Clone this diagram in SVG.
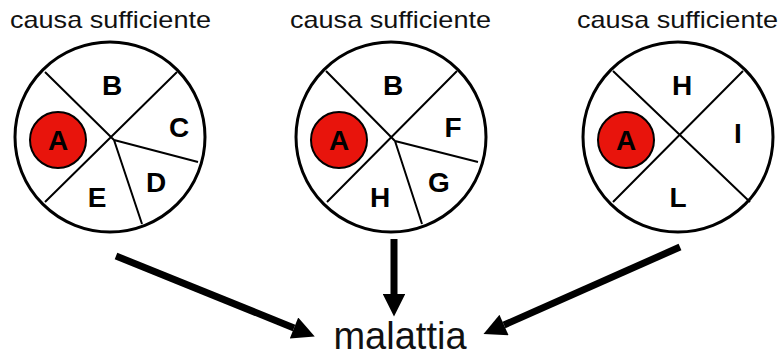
<svg xmlns="http://www.w3.org/2000/svg" width="780" height="358" viewBox="0 0 780 358">
<style>
.title{font-family:"Liberation Sans",Arial,sans-serif;font-size:24px;fill:#111}
.ring{fill:#fff;stroke:#000;stroke-width:3}
.div{stroke:#000;stroke-width:2;fill:none}
.dot{fill:#e8140c;stroke:#000;stroke-width:2}
.lbl{font-family:"Liberation Sans",Arial,sans-serif;font-size:28px;font-weight:bold;fill:#000;text-anchor:middle}
.arr{stroke:#000;stroke-width:7;fill:none;marker-end:url(#ah)}
.out{font-family:"Liberation Sans",Arial,sans-serif;font-size:38px;fill:#111;text-anchor:middle}
</style>
<defs>
<marker id="ah" viewBox="0 0 10 10" refX="0" refY="5" markerWidth="3.4" markerHeight="3.2" markerUnits="strokeWidth" orient="auto">
<path d="M0,0 L10,5 L0,10 z" fill="#000"/>
</marker>
</defs>
<rect width="780" height="358" fill="#fff"/>
<g id="cause1">
<text class="title" x="10" y="28" textLength="201" lengthAdjust="spacingAndGlyphs">causa sufficiente</text>
<circle class="ring" cx="110" cy="137" r="95"/>
<path class="div" d="M45,72 L114,140 M177,72 L45,202 M114,140 L198,162 M114,140 L142,224"/>
<circle class="dot" cx="58" cy="140" r="28"/>
<text class="lbl" x="58" y="150">A</text>
<text class="lbl" x="112" y="95">B</text>
<text class="lbl" x="179" y="137">C</text>
<text class="lbl" x="156" y="192">D</text>
<text class="lbl" x="97" y="207">E</text>
</g>
<g id="cause2">
<text class="title" x="290" y="28" textLength="201" lengthAdjust="spacingAndGlyphs">causa sufficiente</text>
<circle class="ring" cx="391" cy="137" r="95"/>
<path class="div" d="M326,71 L395,141 M457,71 L327,202 M395,141 L478,162 M395,141 L422,224"/>
<circle class="dot" cx="339" cy="140" r="28"/>
<text class="lbl" x="339" y="150">A</text>
<text class="lbl" x="393" y="95">B</text>
<text class="lbl" x="453" y="137">F</text>
<text class="lbl" x="439" y="192">G</text>
<text class="lbl" x="380" y="207">H</text>
</g>
<g id="cause3">
<text class="title" x="577" y="28" textLength="201" lengthAdjust="spacingAndGlyphs">causa sufficiente</text>
<circle class="ring" cx="678" cy="137" r="95"/>
<path class="div" d="M613,71 L750,202 M743,71 L613,202"/>
<circle class="dot" cx="626" cy="140" r="28"/>
<text class="lbl" x="626" y="150">A</text>
<text class="lbl" x="682" y="95">H</text>
<text class="lbl" x="738" y="143">I</text>
<text class="lbl" x="678" y="207">L</text>
</g>
<g id="disease">
<text class="out" x="400" y="349">malattia</text>
</g>
<g id="connectors">
<line class="arr" x1="116" y1="256" x2="294" y2="328"/>
<line class="arr" x1="394" y1="239" x2="394" y2="294"/>
<line class="arr" x1="680" y1="247" x2="504" y2="325"/>
</g>
</svg>
